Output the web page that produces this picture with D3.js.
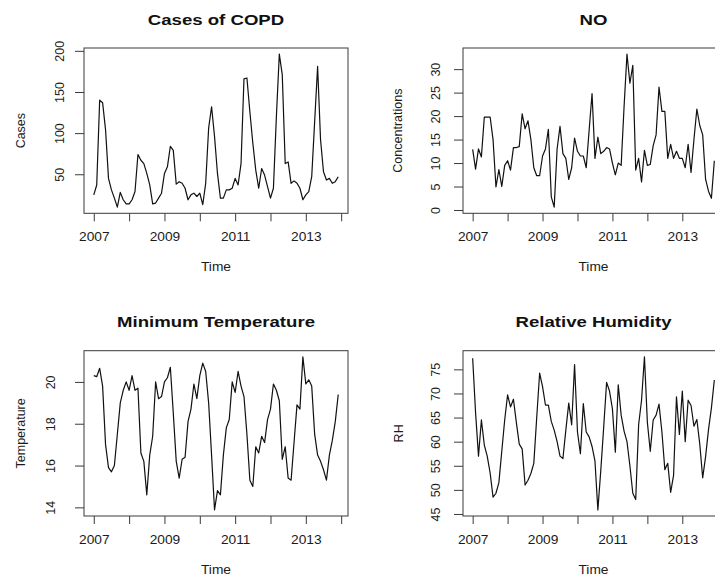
<!DOCTYPE html>
<html>
<head>
<meta charset="utf-8">
<script src="https://cdn.jsdelivr.net/npm/d3@7"></script>
<style>
  html, body { margin: 0; padding: 0; background: #fff; }
  svg { display: block; font-family: "Liberation Sans", Arial, Helvetica, sans-serif; }
</style>
</head>
<body>
<svg id="chart" width="715" height="578"></svg>
<script>
// Monthly series, January 2007 – December 2013
const startYear = 2007;
const monthCount = 84;

const copdCases = [
  25, 37, 140, 137, 104, 45, 31, 21, 10, 28, 19, 14,
  14, 19, 29, 74, 67, 63, 51, 37, 14, 15, 21, 27,
  51, 59, 84, 79, 38, 41, 39, 33, 19, 25, 27, 23,
  27, 13, 39, 106, 132, 96, 51, 21, 21, 31, 31, 33,
  45, 37, 63, 166, 167, 126, 88, 55, 33, 57, 49, 35,
  21, 33, 120, 196, 171, 63, 65, 39, 42, 39, 33, 19,
  25, 29, 47, 114, 181, 92, 53, 43, 45, 39, 41, 47
];

const noConcentration = [
  12.9, 8.7, 13.0, 11.3, 19.8, 19.8, 19.8, 15.0, 4.9, 8.6, 5.0, 9.5,
  10.5, 8.5, 13.3, 13.3, 13.5, 20.5, 17.3, 19.0, 15.0, 9.0, 7.3, 7.3,
  11.5, 13.0, 17.2, 2.8, 0.6, 13.0, 17.8, 12.0, 11.0, 6.5, 9.0, 15.3,
  12.5, 11.5, 11.5, 9.0, 17.0, 24.8, 11.0, 15.5, 12.0, 12.5, 13.3, 13.0,
  10.0, 7.5, 10.0, 9.5, 22.0, 33.2, 27.0, 30.8, 8.5, 11.0, 6.0, 12.7,
  9.5, 9.7, 13.7, 16.0, 26.2, 21.0, 21.0, 11.0, 14.0, 11.0, 12.5, 11.0,
  11.0, 9.0, 14.0, 8.0, 15.0, 21.5, 18.0, 16.0, 6.5, 4.0, 2.5, 10.5
];

const minTemperature = [
  20.3, 20.25, 20.65, 19.8, 17.0, 15.9, 15.7, 16.0, 17.5, 19.0, 19.6, 20.0,
  19.6, 20.3, 19.6, 19.7, 16.6, 16.2, 14.6, 16.5, 17.4, 20.0, 19.2, 19.3,
  20.0, 20.2, 20.7, 18.5, 16.2, 15.4, 16.3, 16.4, 18.1, 18.7, 19.9, 19.2,
  20.3, 20.9, 20.5, 19.0, 16.5, 13.88, 14.8, 14.6, 16.5, 17.8, 18.2, 20.0,
  19.5, 20.5, 19.8, 19.3, 17.5, 15.3, 15.0, 16.9, 16.6, 17.4, 17.1, 18.2,
  18.7, 19.9, 19.6, 19.1, 16.3, 16.9, 15.4, 15.3, 17.1, 18.9, 18.7, 21.2,
  19.9, 20.1, 19.8, 17.5, 16.5, 16.2, 15.8, 15.3, 16.5, 17.2, 18.1, 19.4
];

const relativeHumidity = [
  77.3, 66.0, 57.0, 64.5, 59.3, 57.0, 53.5, 48.5, 49.3, 51.5, 58.0, 64.5,
  69.7, 67.2, 68.8, 64.0, 59.5, 58.5, 51.0, 52.0, 53.4, 55.5, 65.0, 74.2,
  71.4, 67.6, 67.6, 64.2, 62.4, 60.0, 57.0, 56.5, 62.4, 68.0, 63.5, 76.0,
  62.0, 57.5, 67.9, 62.0, 61.0, 59.0, 56.0, 45.85, 54.0, 63.0, 72.3, 70.5,
  66.8, 57.8, 71.8, 65.5, 62.2, 60.0, 55.0, 49.3, 48.0, 63.5, 68.6, 77.6,
  64.0, 58.0, 64.5, 65.5, 67.8, 62.0, 54.2, 55.5, 49.5, 53.0, 69.3, 61.5,
  70.5, 60.0, 68.6, 67.5, 63.2, 64.6, 59.5, 52.5, 56.9, 62.5, 67.0, 72.8
];

// Axis tick values and labels
const yearTicks = [2007, 2008, 2009, 2010, 2011, 2012, 2013, 2014];
const yearLabels = [2007, 2009, 2011, 2013];
const casesTicks = [50, 100, 150, 200];
const noTicks = [0, 5, 10, 15, 20, 25, 30];
const tempTicks = [14, 16, 18, 20];
const rhTicks = [45, 50, 55, 60, 65, 70, 75];

const times = d3.range(monthCount).map(i => startYear + i / 12);

// Panel layout (pixel boxes of the four plot regions)
const panels = [
  { title: "Cases of COPD", ylab: "Cases", values: copdCases, ticks: casesTicks,
    box: { left: 84, right: 348, top: 48, bottom: 213.3 }, tickLabX: 63.5, ylabX: 25 },
  { title: "NO", ylab: "Concentrations", values: noConcentration, ticks: noTicks,
    box: { left: 463, right: 724, top: 48, bottom: 213.3 }, tickLabX: 440, ylabX: 401.5 },
  { title: "Minimum Temperature", ylab: "Temperature", values: minTemperature, ticks: tempTicks,
    box: { left: 84, right: 348, top: 350.7, bottom: 516 }, tickLabX: 55, ylabX: 25 },
  { title: "Relative Humidity", ylab: "RH", values: relativeHumidity, ticks: rhTicks,
    box: { left: 463, right: 724, top: 350.7, bottom: 516 }, tickLabX: 440, ylabX: 403 }
];

const textColor = "#1b1b1b";
const frameColor = "#3a3a3a";
const tickLen = 9;

// R-style axis limits: data range widened by 4% on both sides
function paddedExtent(arr) {
  const [lo, hi] = d3.extent(arr);
  const pad = (hi - lo) * 0.04;
  return [lo - pad, hi + pad];
}

const svg = d3.select("#chart");
svg.append("rect").attr("width", 715).attr("height", 578).attr("fill", "#fff");

panels.forEach(p => {
  const b = p.box;
  const x = d3.scaleLinear().domain(paddedExtent(times)).range([b.left, b.right]);
  const y = d3.scaleLinear().domain(paddedExtent(p.values)).range([b.bottom, b.top]);
  const g = svg.append("g");

  // series line
  const line = d3.line().x((d, i) => x(times[i])).y(d => y(d));
  g.append("path")
    .datum(p.values)
    .attr("d", line)
    .attr("fill", "none")
    .attr("stroke", "#111")
    .attr("stroke-width", 1.2)
    .attr("stroke-linejoin", "round");

  // frame
  g.append("rect")
    .attr("x", b.left).attr("y", b.top)
    .attr("width", b.right - b.left).attr("height", b.bottom - b.top)
    .attr("fill", "none").attr("stroke", frameColor).attr("stroke-width", 1);

  // x axis (ticks every year, labels every second year)
  const xAxis = g.append("g")
    .attr("transform", `translate(0,${b.bottom})`)
    .call(d3.axisBottom(x).tickValues(yearTicks).tickSize(tickLen - 1)
      .tickFormat(d => yearLabels.includes(d) ? String(d) : ""));
  xAxis.select(".domain").remove();
  xAxis.selectAll("line").attr("stroke", frameColor);
  xAxis.selectAll("text")
    .attr("y", 28).attr("dy", 0)
    .attr("transform", "scale(1.1,1)")
    .attr("fill", textColor)
    .style("font-size", "12.5px")
    .style("font-family", "'Liberation Sans', Arial, sans-serif");

  // y axis with rotated tick labels
  const yAxis = g.append("g")
    .attr("transform", `translate(${b.left},0)`)
    .call(d3.axisLeft(y).tickValues(p.ticks).tickSize(tickLen));
  yAxis.select(".domain").remove();
  yAxis.selectAll("line").attr("stroke", frameColor);
  yAxis.selectAll("text")
    .attr("x", null).attr("dy", null)
    .attr("text-anchor", "middle")
    .attr("transform", `translate(${p.tickLabX - b.left},0) rotate(-90)`)
    .attr("fill", textColor)
    .style("font-size", "12.5px")
    .style("font-family", "'Liberation Sans', Arial, sans-serif");

  // main title
  const cx = (b.left + b.right) / 2;
  g.append("text")
    .attr("transform", `translate(${cx},${b.top - 23.5}) scale(1.2,1)`)
    .attr("text-anchor", "middle")
    .attr("font-weight", "bold")
    .attr("font-size", "15.5px")
    .attr("fill", "#111")
    .text(p.title);

  // x axis title
  g.append("text")
    .attr("transform", `translate(${cx},${b.bottom + 57.7}) scale(1.1,1)`)
    .attr("text-anchor", "middle")
    .attr("font-size", "12.5px")
    .attr("fill", textColor)
    .text("Time");

  // y axis title
  g.append("text")
    .attr("transform", `translate(${p.ylabX},${(b.top + b.bottom) / 2}) rotate(-90)`)
    .attr("text-anchor", "middle")
    .attr("font-size", "12.5px")
    .attr("fill", textColor)
    .text(p.ylab);
});
</script>
</body>
</html>
